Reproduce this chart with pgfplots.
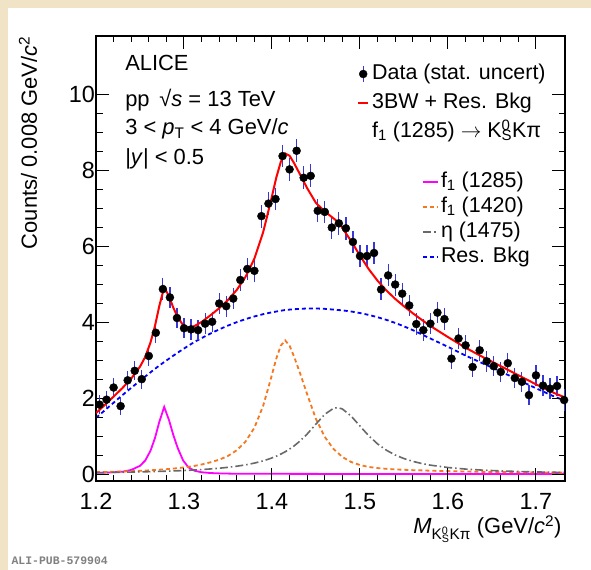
\documentclass[border=0pt]{standalone}
\usepackage{fontspec}
\setmainfont{Liberation Sans}
\newfontfamily\monofont{Liberation Mono}
\usepackage{pgfplots}
\usepackage{pgfplotstable}
\pgfplotsset{compat=1.18}
\definecolor{beige}{RGB}{241,228,198}
\definecolor{myorange}{RGB}{245,120,30}
\definecolor{mygray}{RGB}{105,105,105}
\definecolor{ebar}{RGB}{55,55,215}
\definecolor{mymag}{RGB}{255,0,255}

\pgfplotstableread{
x bkg mag orn eta tot
1.200 1.48 0.035 0.053 0.040 1.608
1.210 1.68 0.040 0.058 0.043 1.821
1.220 1.88 0.050 0.064 0.047 2.041
1.230 2.08 0.065 0.071 0.050 2.266
1.240 2.27 0.110 0.079 0.055 2.514
1.250 2.46 0.220 0.088 0.060 2.828
1.256 2.57 0.360 0.095 0.063 3.088
1.262 2.68 0.620 0.103 0.066 3.469
1.267 2.77 0.950 0.109 0.069 3.898
1.272 2.86 1.380 0.117 0.073 4.430
1.2775 2.95 1.770 0.126 0.076 4.922
1.283 3.04 1.420 0.136 0.081 4.677
1.288 3.12 1.020 0.147 0.085 4.372
1.293 3.20 0.680 0.159 0.089 4.128
1.299 3.29 0.360 0.174 0.095 3.919
1.305 3.38 0.180 0.193 0.102 3.855
1.312 3.48 0.090 0.218 0.110 3.898
1.320 3.58 0.050 0.254 0.121 4.005
1.330 3.70 0.030 0.312 0.137 4.179
1.340 3.81 0.020 0.380 0.156 4.366
1.350 3.91 0.015 0.480 0.180 4.585
1.360 4.00 0.010 0.630 0.209 4.849
1.370 4.08 0.010 0.860 0.245 5.195
1.380 4.15 0.010 1.220 0.291 5.671
1.390 4.21 0.010 1.800 0.350 6.370
1.398 4.25 0.010 2.450 0.410 7.120
1.405 4.28 0.010 3.050 0.473 7.813
1.410 4.30 0.010 3.380 0.527 8.217
1.415 4.32 0.010 3.520 0.589 8.439
1.420 4.33 0.008 3.380 0.660 8.378
1.425 4.34 0.008 3.100 0.741 8.189
1.432 4.35 0.008 2.650 0.875 7.883
1.440 4.36 0.007 2.100 1.057 7.524
1.450 4.36 0.007 1.450 1.319 7.136
1.460 4.35 0.006 0.980 1.575 6.911
1.470 4.33 0.006 0.660 1.734 6.730
1.475 4.32 0.006 0.560 1.750 6.636
1.480 4.31 0.005 0.450 1.715 6.480
1.490 4.28 0.005 0.320 1.528 6.133
1.500 4.24 0.005 0.240 1.265 5.750
1.510 4.19 0.004 0.190 1.009 5.393
1.520 4.13 0.004 0.160 0.796 5.090
1.530 4.06 0.004 0.140 0.630 4.834
1.540 3.98 0.004 0.125 0.504 4.613
1.550 3.89 0.003 0.115 0.410 4.418
1.560 3.79 0.003 0.105 0.337 4.235
1.570 3.68 0.003 0.100 0.281 4.064
1.580 3.57 0.003 0.090 0.237 3.900
1.600 3.35 0.003 0.080 0.175 3.608
1.620 3.12 0.002 0.070 0.134 3.326
1.640 2.91 0.002 0.060 0.105 3.077
1.660 2.70 0.002 0.055 0.085 2.842
1.680 2.48 0.002 0.050 0.070 2.602
1.700 2.26 0.002 0.045 0.058 2.365
1.720 2.05 0.002 0.040 0.050 2.142
1.733 1.93 0.002 0.040 0.045 2.017
}\fitdata

\pgfplotstableread{
x y e
1.204 1.83 0.24
1.212 1.96 0.24
1.220 2.28 0.25
1.228 1.79 0.24
1.236 2.47 0.25
1.244 2.72 0.25
1.252 2.50 0.25
1.260 3.11 0.26
1.268 3.72 0.27
1.276 4.87 0.28
1.284 4.65 0.28
1.292 4.11 0.27
1.300 3.84 0.27
1.308 3.81 0.27
1.316 3.79 0.27
1.324 3.96 0.27
1.332 4.01 0.27
1.340 4.49 0.28
1.348 4.42 0.28
1.356 4.62 0.28
1.364 5.11 0.29
1.372 5.40 0.29
1.380 5.35 0.29
1.388 6.79 0.30
1.396 7.12 0.30
1.404 7.24 0.30
1.412 8.37 0.30
1.420 8.02 0.30
1.428 8.51 0.30
1.436 7.80 0.30
1.444 7.85 0.30
1.452 6.93 0.30
1.460 6.90 0.30
1.468 6.49 0.30
1.476 6.60 0.30
1.484 6.47 0.30
1.492 6.11 0.30
1.500 5.74 0.29
1.508 5.74 0.29
1.516 5.82 0.29
1.524 4.86 0.29
1.532 5.23 0.29
1.540 4.99 0.29
1.548 4.75 0.28
1.556 4.44 0.28
1.564 3.95 0.28
1.572 3.79 0.28
1.580 3.96 0.28
1.588 4.25 0.28
1.596 4.08 0.28
1.604 3.04 0.28
1.612 3.57 0.28
1.620 3.39 0.28
1.628 2.82 0.27
1.636 3.26 0.27
1.644 2.97 0.27
1.652 2.84 0.27
1.660 2.69 0.27
1.668 2.92 0.27
1.676 2.53 0.27
1.684 2.43 0.27
1.692 2.08 0.27
1.700 2.60 0.27
1.708 2.33 0.27
1.716 2.25 0.27
1.724 2.32 0.27
1.732 1.95 0.28
}\datatab

\newcommand{\KS}{K\rlap{\textsuperscript{0}}\textsubscript{S}}
\newcommand{\txtfont}{\fontsize{22}{26}\selectfont}
\newcommand{\legfont}{\fontsize{21.5}{25}\selectfont}

\begin{document}
\begin{tikzpicture}
\fill[beige] (0,0) rectangle (591bp,570bp);
\fill[white] (8bp,0) rectangle (591bp,562bp);
\useasboundingbox (0,0) rectangle (591bp,570bp);
\node[anchor=base west, text=gray, font=\monofont\fontsize{11.5}{13}\selectfont\bfseries] at (8bp,6bp) {ALI-PUB-579904};

\pgfplotsset{myax/.style={width=469bp, height=445bp, scale only axis,
  at={(96bp,89bp)}, anchor=south west,
  xmin=1.2, xmax=1.733, ymin=-0.18, ymax=11.53}}

% components (second legend)
\begin{axis}[myax, hide axis,
  legend style={draw=none, fill=none, at={(rel axis cs:0.6951,0.6955)}, anchor=north west,
    inner sep=0pt, row sep=5bp, column sep=2bp,
    nodes={inner sep=0pt, text height=15.5bp, text depth=4.5bp, font=\legfont}},
  legend cell align=left,
  legend image code/.code={\draw[#1] (0bp,0bp) -- (15bp,0bp);}]
\addplot[mymag, line width=1.8bp] table[x=x,y=mag]{\fitdata};
\addplot[myorange, line width=1.8bp, dash pattern=on 4bp off 3bp] table[x=x,y=orn]{\fitdata};
\addplot[mygray, line width=1.6bp, dash pattern=on 8bp off 3bp on 1.5bp off 3bp] table[x=x,y=eta]{\fitdata};
\addplot[blue, line width=1.8bp, dash pattern=on 4bp off 3bp] table[x=x,y=bkg]{\fitdata};
\legend{f\textsubscript{1} (1285), f\textsubscript{1} (1420), η (1475), Res. Bkg}
\end{axis}

% data + total fit
\begin{axis}[myax,
  axis line style={line width=1.2bp},
  tick align=inside, tick pos=both, ticklabel pos=left,
  every tick/.style={black, line width=1bp},
  major tick length=13bp, minor tick length=6.5bp,
  xtick={1.2,1.3,1.4,1.5,1.6,1.7},
  xticklabels={1.2,1.3,1.4,1.5,1.6,1.7},
  ytick={0,2,4,6,8,10},
  minor x tick num=4, minor y tick num=3,
  /pgf/number format/assume math mode=true,
  tick label style={font=\fontsize{23.5}{28}\selectfont},
  xticklabel style={yshift=-9bp},
  yticklabel style={xshift=2.5bp},
  xlabel={\textit{M}\textsubscript{\KS Kπ} (GeV/\textit{c}\textsuperscript{2})},
  ylabel={Counts/ 0.008 GeV/\textit{c}\textsuperscript{2}},
  every axis x label/.style={at={(rel axis cs:1,0)}, anchor=east, yshift=-48bp, font=\txtfont},
  every axis y label/.style={at={(rel axis cs:0,1)}, xshift=-68bp, yshift=3bp, rotate=90, anchor=east, font=\txtfont},
  legend style={draw=none, fill=none, at={(rel axis cs:0.5565,0.9375)}, anchor=north west,
    inner sep=0pt, row sep=9bp, column sep=3bp,
    nodes={inner sep=0pt, text height=15.5bp, text depth=4.5bp, font=\legfont}},
  legend cell align=left]
\addplot[only marks, mark=*, mark size=4bp, black,
  legend image code/.code={\draw[ebar, line width=1.2bp] (5bp,-8bp) -- (5bp,8bp); \fill[black] (5bp,0bp) circle (4bp);},
  error bars/.cd, y dir=both, y explicit,
  error bar style={ebar, line width=1.2bp}, error mark=none]
  table[x=x, y=y, y error=e]{\datatab};
\addlegendentry{Data (stat. uncert)}
\addplot[red, line width=2bp,
  legend image code/.code={\draw[red, line width=2bp] (0bp,0bp) -- (10bp,0bp);}]
  table[x=x,y=tot]{\fitdata};
\addlegendentry{3BW + Res. Bkg}
\addlegendimage{empty legend}
\addlegendentry{f\textsubscript{1} (1285) $\rightarrow$ \KS Kπ}
\node[anchor=base west, font=\txtfont, inner sep=0pt] at (rel axis cs:0.062,0.922) {ALICE};
\node[anchor=base west, font=\txtfont, inner sep=0pt] at (rel axis cs:0.062,0.841) {pp \,√\textit{s} = 13 TeV};
\node[anchor=base west, font=\txtfont, inner sep=0pt] at (rel axis cs:0.062,0.778) {3 < \textit{p}\textsubscript{T} < 4 GeV/\textit{c}};
\node[anchor=base west, font=\txtfont, inner sep=0pt] at (rel axis cs:0.062,0.712) {|\textit{y}| < 0.5};
\node[anchor=base west, font=\txtfont, inner sep=0pt] at (rel axis cs:-0.004,1.003) {×10\textsuperscript{3}};
\end{axis}
\end{tikzpicture}
\end{document}
